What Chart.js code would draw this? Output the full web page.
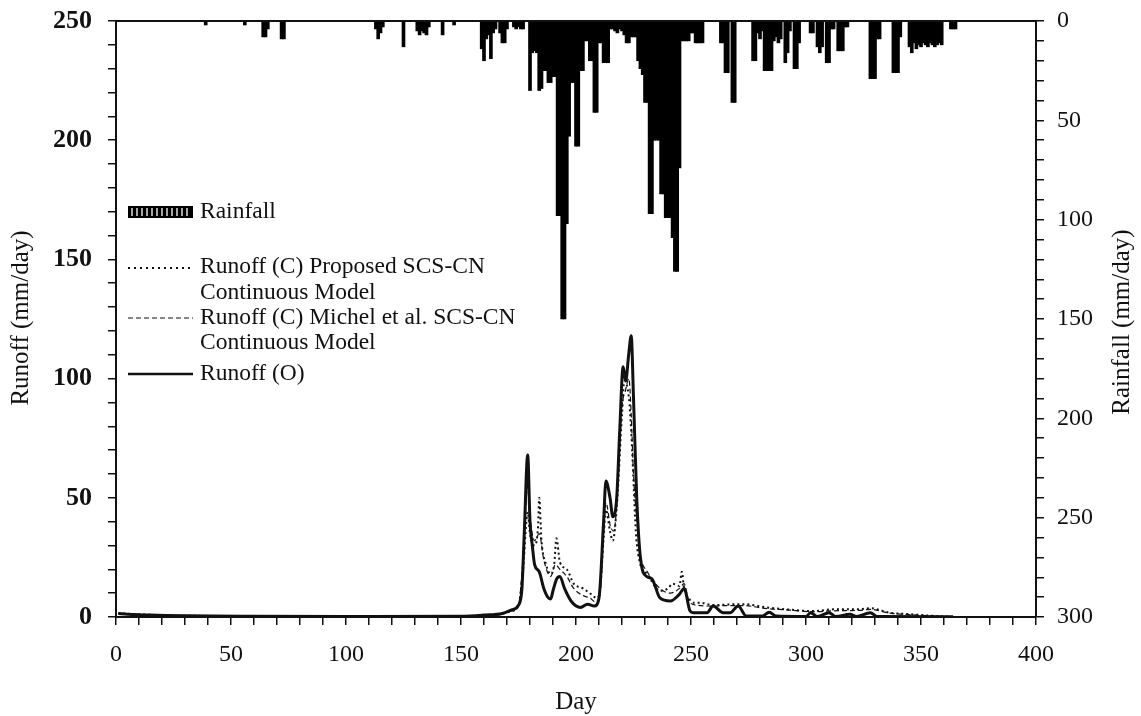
<!DOCTYPE html>
<html><head><meta charset="utf-8">
<script src="https://cdn.jsdelivr.net/npm/chart.js@4"></script>
<style>html,body{margin:0;padding:0;background:#fff;}#wrap{width:1141px;height:716px;}</style>
</head><body><div id="wrap"><canvas id="c" width="1141" height="716"></canvas></div>
<script>
// ---- Data ----
const rainDays = [39,56,64,65,66,72,73,113,114,115,116,125,131,132,133,134,135,136,142,147,
159,160,161,162,163,164,165,167,168,169,170,173,174,175,176,177,
180,181,182,183,184,185,186,187,188,189,190,191,192,193,194,195,196,197,198,199,
200,201,202,203,204,205,206,207,208,209,210,211,212,213,214,215,216,217,218,219,
220,221,222,223,224,225,226,227,228,229,230,231,232,233,234,235,236,237,238,239,
240,241,242,243,244,245,246,247,248,249,250,251,252,253,254,255,263,264,265,266,268,269,
277,278,279,280,281,282,283,284,285,286,287,288,289,291,292,293,295,296,297,
302,303,305,306,307,309,310,311,312,314,315,316,317,318,328,329,330,331,332,
338,339,340,341,345,346,347,348,349,350,351,352,353,354,355,356,357,358,359,363,364,365];
const rainMM = [2,2,8,8,4,9,9,4,9,6,3,13,5,7,5,6,7,3,7,2,
14,20,9,7,19,6,4,6,11,11,4,3,4,3,4,4,
35,16,15,16,35,34,25,25,31,31,28,28,98,98,150,150,102,58,31,31,
63,63,25,25,10,10,20,20,46,46,11,11,21,21,21,4,4,5,6,4,
5,7,11,11,8,8,8,20,24,27,41,41,97,97,60,60,60,87,87,99,
99,99,109,126,126,74,10,10,10,10,6,6,11,11,11,11,11,11,26,26,41,41,
20,20,6,9,5,25,25,25,25,10,8,11,9,21,16,5,24,24,11,
6,6,13,16,13,21,21,4,4,15,15,15,3,3,29,29,29,9,9,
26,26,26,8,13,16,11,14,12,13,11,12,13,11,12,13,12,11,12,4,4,4];

const obsDays = [1,5,15,30,60,100,150,160,168,172,175,176.5,177.5,179,180,181,182,184,186,188,189,190,191.6,193,195,198,202,205,208,210,212,213,214.8,216,217.7,219,220.5,221.6,223,224,225,226.4,228,230.7,233,236.5,241,245,247,249.6,251,257,259.6,264,267,270.5,274,281,284,287,300,302,305,310,313,319,322,328,331,364];
const obsRunoff = [1.5,1.2,0.8,0.5,0.3,0.2,0.3,0.8,1.5,3,5,12,35,68,40,30,22,19,12,8,7.6,11,16,17,12,6.5,4,5.4,4.6,8,40,57,50,42,50,78,105,99,111,118,92,50,25,17,16,8,6.7,9.6,12,2.5,1.8,1.8,4.6,1.8,1.8,4.6,0.4,0.4,2,0.4,0.2,1.8,0.2,1.8,0.2,1.2,0.2,1.8,0.2,0.1];

const propDays = [1,30,150,165,172,175,177,179,180,182,183.5,184,185,187,189,190.5,191.5,193,196,199,203,206,209,210.5,212,213,214.8,216,217.7,220,221,223,224,225,226,228,231,236.5,240,242,245,246,247,249,251,254,259.6,265,272.7,283,291.6,303,311.8,323.5,328,336.5,345,355,364];
const propRunoff = [1.5,0.5,0.3,0.8,2.5,5,20,44,35,30,38,50,32,22,18,22,33,23,20,14,12,10,8,12,33,45,36,32,46,85,99,92,78,57,36,22,18,11,12,14,13,19,12,8,6,6,5,5.2,5.4,4,3.2,2.5,3.2,3.3,3.7,1.8,1.2,0.5,0];

const michDays = [1,30,150,165,172,175,177,179,180,182,184,186,189,191,193,196,199,203,206,209,210.5,212,213,215,216.5,218,220,221.5,223,224,225,226.5,228,231,236.5,241,245,247,249,252,259.6,265,272.7,283,291.6,303,311.8,323.5,328,336.5,345,355,364];
const michRunoff = [1.5,0.5,0.3,0.8,2.5,5,25,55,42,32,35,24,17,22,20,17,12,9,8,6,10,35,48,38,36,52,88,95,100,85,60,40,26,19,12,10,12,14,7,5,4.6,4.8,4.8,3.5,3,2.2,2.6,2.8,3.2,1.6,1,0.4,0];

const xTickLabels = [0,50,100,150,200,250,300,350,400];
const yTickLabels = [0,50,100,150,200,250];
const rainTickLabels = [0,50,100,150,200,250,300];

// ---- Drawing ----
const FONT = "'Liberation Serif','Times New Roman',serif";
const INK = '#111';
const pts = (xs, ys) => xs.map((d, i) => ({x: d, y: ys[i]}));

const decor = {
  id: 'decor',
  afterDraw(chart) {
    const c = chart.ctx, a = chart.chartArea;
    c.save();
    c.strokeStyle = INK; c.lineWidth = 2;
    c.beginPath(); c.moveTo(a.left, a.top); c.lineTo(a.right, a.top); c.stroke();
    c.fillStyle = INK; c.textAlign = 'center'; c.textBaseline = 'middle';
    c.font = '25px ' + FONT;
    c.save(); c.translate(21, 318); c.rotate(-Math.PI/2); c.fillText('Runoff (mm/day)', 0, 0); c.restore();
    c.save(); c.translate(1122, 322); c.rotate(-Math.PI/2); c.fillText('Rainfall (mm/day)', 0, 0); c.restore();
    c.fillText('Day', 576, 702);
    const lx0 = 128, lx1 = 193, tx = 200;
    c.fillStyle = '#000'; c.fillRect(lx0, 206, lx1 - lx0, 12);
    c.strokeStyle = '#fff'; c.lineWidth = 1.3;
    for (let x = lx0 + 4; x < lx1 - 2; x += 5) { c.beginPath(); c.moveTo(x, 208); c.lineTo(x, 216); c.stroke(); }
    c.strokeStyle = INK;
    c.lineWidth = 2; c.setLineDash([2, 4]);
    c.beginPath(); c.moveTo(lx0, 268); c.lineTo(lx1, 268); c.stroke();
    c.lineWidth = 1.2; c.setLineDash([5, 3]);
    c.beginPath(); c.moveTo(lx0, 318); c.lineTo(lx1, 318); c.stroke();
    c.lineWidth = 2.5; c.setLineDash([]);
    c.beginPath(); c.moveTo(lx0, 374); c.lineTo(lx1, 374); c.stroke();
    c.fillStyle = INK; c.textAlign = 'left'; c.font = '23.5px ' + FONT;
    c.fillText('Rainfall', tx, 212);
    c.fillText('Runoff (C) Proposed SCS-CN', tx, 267);
    c.fillText('Continuous Model', tx, 293);
    c.fillText('Runoff (C) Michel et al. SCS-CN', tx, 318);
    c.fillText('Continuous Model', tx, 343);
    c.fillText('Runoff (O)', tx, 374);
    c.restore();
  }
};

const tickGrid = {drawOnChartArea: false, drawTicks: true, tickLength: 8, color: INK, lineWidth: 1.5, offset: false};
const axBorder = {display: true, color: INK, width: 2};

new Chart(document.getElementById('c'), {
  data: {
    datasets: [
      {type: 'line', label: 'Runoff (O)', data: pts(obsDays, obsRunoff), yAxisID: 'y', borderColor: INK, borderWidth: 3, pointRadius: 0, cubicInterpolationMode: 'monotone', order: 1},
      {type: 'line', label: 'Runoff (C) Proposed SCS-CN Continuous Model', data: pts(propDays, propRunoff), yAxisID: 'y', borderColor: INK, borderWidth: 2, borderDash: [2, 3], pointRadius: 0, cubicInterpolationMode: 'monotone', order: 2},
      {type: 'line', label: 'Runoff (C) Michel et al. SCS-CN Continuous Model', data: pts(michDays, michRunoff), yAxisID: 'y', borderColor: INK, borderWidth: 1.2, borderDash: [5, 3], pointRadius: 0, cubicInterpolationMode: 'monotone', order: 3},
      {type: 'bar', label: 'Rainfall', data: pts(rainDays, rainMM), yAxisID: 'yR', backgroundColor: '#000', borderWidth: 0, barThickness: 3, order: 4}
    ]
  },
  options: {
    responsive: false, animation: false, devicePixelRatio: 1,
    layout: {padding: {top: 21, left: 0, right: 0, bottom: 0}},
    plugins: {legend: {display: false}, tooltip: {enabled: false}},
    scales: {
      x: {type: 'linear', position: 'bottom', min: 0, max: 400, offset: false,
        ticks: {stepSize: 10, autoSkip: false, maxRotation: 0, padding: 15, color: INK, font: {family: FONT, size: 24},
          callback: v => xTickLabels.includes(v) ? String(v) : ''},
        grid: tickGrid, border: axBorder,
        afterFit: s => { s.height = 99; s.paddingLeft = 0; s.paddingRight = 0; }},
      y: {type: 'linear', position: 'left', min: 0, max: 250,
        ticks: {stepSize: 10, autoSkip: false, padding: 16, color: INK, font: {family: FONT, size: 26, weight: 'bold'},
          callback: v => yTickLabels.includes(v) ? String(v) : ''},
        grid: tickGrid, border: axBorder,
        afterFit: s => { s.width = 116; s.paddingTop = 0; s.paddingBottom = 0; }},
      yR: {type: 'linear', position: 'right', reverse: true, min: 0, max: 300,
        ticks: {stepSize: 10, autoSkip: false, padding: 13, color: INK, font: {family: FONT, size: 24},
          callback: v => rainTickLabels.includes(v) ? String(v) : ''},
        grid: tickGrid, border: axBorder,
        afterFit: s => { s.width = 105; s.paddingTop = 0; s.paddingBottom = 0; }}
    }
  },
  plugins: [decor]
});
</script>
</body></html>
